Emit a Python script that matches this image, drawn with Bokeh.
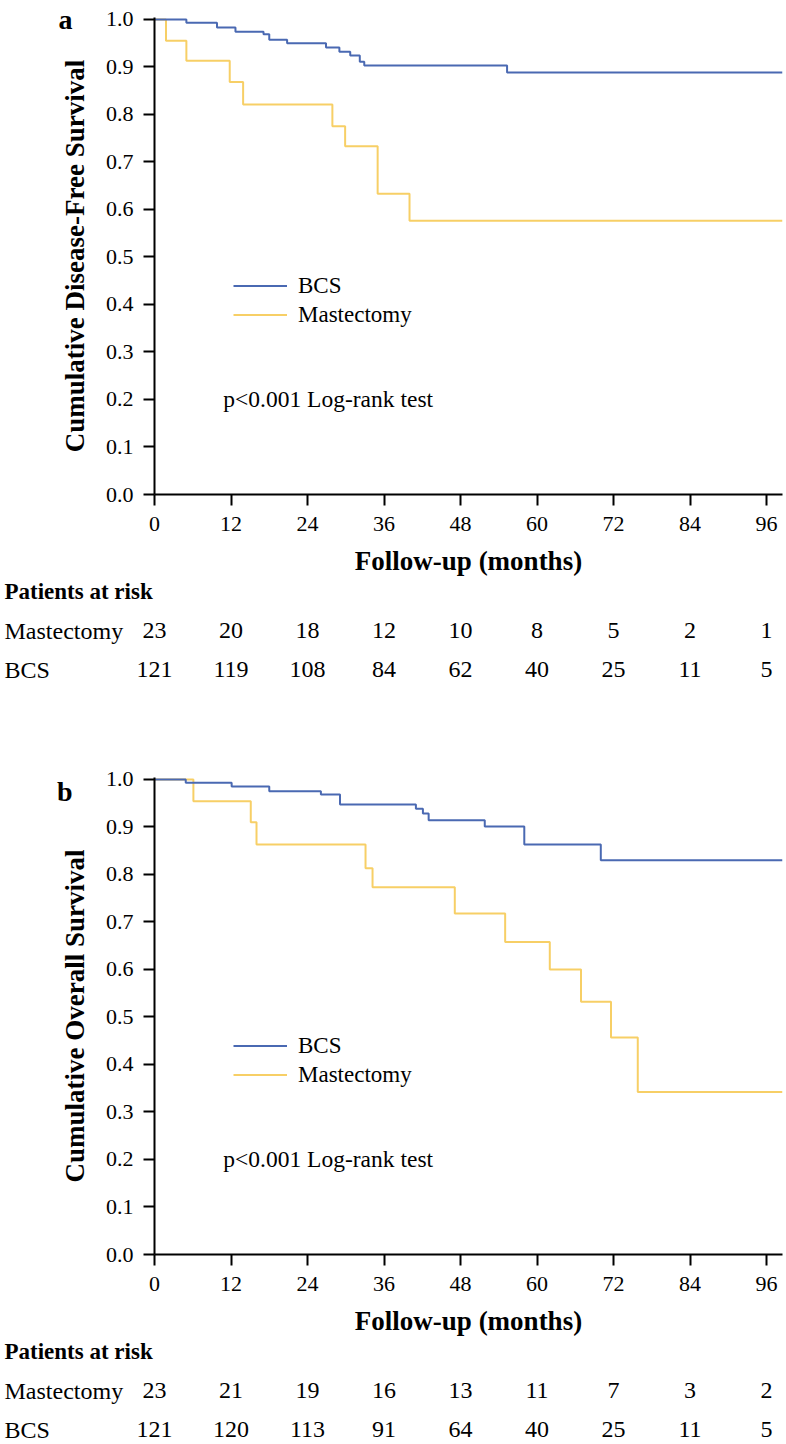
from bokeh.plotting import figure
from bokeh.models import (Range1d, FixedTicker, PrintfTickFormatter, Legend,
                          LegendItem, Label, ColumnDataSource, LinearAxis)
from bokeh.embed import file_html
from bokeh.resources import INLINE
from bokeh.core.properties import value

# ---------------- data ----------------
x_ticks = [0, 12, 24, 36, 48, 60, 72, 84, 96]
y_ticks = [0.0, 0.1, 0.2, 0.3, 0.4, 0.5, 0.6, 0.7, 0.8, 0.9, 1.0]

# (a) Disease-free survival
dfs_bcs_t = [0, 5.0, 9.8, 12.7, 17.1, 18.0, 20.8, 26.9, 29.0, 30.7, 32.2, 32.9, 55.3, 98.5]
dfs_bcs_s = [1.0, 0.993, 0.983, 0.974, 0.969, 0.957, 0.950, 0.941, 0.932, 0.924, 0.911, 0.903, 0.888, 0.888]
dfs_mast_t = [0, 1.8, 5.0, 11.8, 13.9, 27.9, 29.9, 35.0, 40.0, 98.5]
dfs_mast_s = [1.0, 0.955, 0.913, 0.868, 0.821, 0.775, 0.733, 0.633, 0.576, 0.576]

# (b) Overall survival
os_bcs_t = [0, 4.9, 12.1, 18.0, 26.1, 29.1, 41.0, 42.1, 43.0, 51.8, 58.0, 70.0, 98.5]
os_bcs_s = [1.0, 0.993, 0.985, 0.975, 0.968, 0.947, 0.938, 0.928, 0.914, 0.901, 0.863, 0.830, 0.830]
os_mast_t = [0, 6.1, 15.1, 16.0, 33.1, 34.2, 47.1, 55.0, 62.0, 66.9, 71.6, 75.8, 98.5]
os_mast_s = [1.0, 0.954, 0.910, 0.863, 0.813, 0.773, 0.718, 0.658, 0.600, 0.532, 0.457, 0.342, 0.342]

# patients at risk
dfs_risk_mast = [23, 20, 18, 12, 10, 8, 5, 2, 1]
dfs_risk_bcs = [121, 119, 108, 84, 62, 40, 25, 11, 5]
os_risk_mast = [23, 21, 19, 16, 13, 11, 7, 3, 2]
os_risk_bcs = [121, 120, 113, 91, 64, 40, 25, 11, 5]

groups = ["BCS", "Mastectomy"]
risk_header = "Patients at risk"
x_title = "Follow-up (months)"
pval_text = "p<0.001 Log-rank test"

# ---------------- style / layout ----------------
FONT = "Liberation Serif"
BLUE = "#4a69b2"
YELLOW = "#f7cf66"

W = 786
LEFT = 154
RIGHT = 4
FRAME_W = W - LEFT - RIGHT
X_END = 98.5
FRAME_H = 477
Y_END = 1.004
BOTTOM = 86
PX_PER_MONTH = FRAME_W / X_END
ROW0 = 11
ROW_H = 39
TABLE_H = 102


def km_panel(bcs_t, bcs_s, mast_t, mast_s, ytitle, tag, tag_y, border_top):
    p = figure(width=W, height=border_top + FRAME_H + BOTTOM,
               x_range=Range1d(0, X_END), y_range=Range1d(0, Y_END),
               output_backend="svg", toolbar_location=None,
               min_border_left=LEFT, min_border_right=RIGHT,
               min_border_top=border_top, min_border_bottom=BOTTOM)
    p.grid.visible = False
    p.outline_line_color = None

    xax = p.xaxis[0]
    yax = p.yaxis[0]
    xax.ticker = FixedTicker(ticks=x_ticks)
    yax.ticker = FixedTicker(ticks=y_ticks)
    yax.formatter = PrintfTickFormatter(format="%.1f")
    for ax in (xax, yax):
        ax.axis_line_width = 2
        ax.axis_line_color = "black"
        ax.major_tick_line_width = 2
        ax.major_tick_line_color = "black"
        ax.major_tick_out = 11
        ax.major_tick_in = 0
        ax.minor_tick_line_color = None
        ax.major_label_text_font = FONT
        ax.major_label_text_font_size = "22px"
        ax.major_label_text_color = "black"
        ax.axis_label_text_font = FONT
        ax.axis_label_text_font_style = "bold"
        ax.axis_label_text_color = "black"
    xax.axis_label = x_title
    xax.axis_label_text_font_size = "27px"
    xax.major_label_standoff = 11
    xax.axis_label_standoff = 12
    yax.axis_label = ytitle
    yax.axis_label_text_font_size = "27px"
    yax.major_label_standoff = 10
    yax.axis_label_standoff = 13

    # panel tag ("a"/"b") shown as the single label of an extra left axis
    tag_axis = LinearAxis(ticker=FixedTicker(ticks=[tag_y]),
                          major_label_overrides={tag_y: tag},
                          axis_line_color=None, major_tick_line_color=None,
                          minor_tick_line_color=None, major_tick_out=0,
                          major_tick_in=0, major_label_standoff=-16,
                          major_label_text_font=FONT,
                          major_label_text_font_size="28px",
                          major_label_text_font_style="bold",
                          major_label_text_color="black")
    p.add_layout(tag_axis, "left")

    r_m = p.step(mast_t, mast_s, mode="after", line_color=YELLOW, line_width=2)
    r_b = p.step(bcs_t, bcs_s, mode="after", line_color=BLUE, line_width=2)

    legend = Legend(items=[LegendItem(label=groups[0], renderers=[r_b]),
                           LegendItem(label=groups[1], renderers=[r_m])],
                    location=(79, 165),
                    label_text_font=FONT, label_text_font_size="23px",
                    label_text_color="black",
                    glyph_width=54, glyph_height=29, label_height=29,
                    label_standoff=11, spacing=0, padding=0, margin=0,
                    border_line_color=None, background_fill_alpha=0)
    p.add_layout(legend)

    p.add_layout(Label(x=10.8, y=0.2, text=pval_text, text_font=FONT,
                       text_font_size="23.5px", text_baseline="middle",
                       text_color="black"))
    return p


def risk_table(mast, bcs):
    x0 = -LEFT / PX_PER_MONTH
    x1 = X_END + RIGHT / PX_PER_MONTH
    x_lab = x0 + 4 / PX_PER_MONTH
    t = figure(width=W, height=TABLE_H,
               x_range=Range1d(x0, x1),
               y_range=Range1d(start=(TABLE_H - ROW0) / ROW_H, end=-ROW0 / ROW_H),
               x_axis_type=None, y_axis_type=None, min_border=0,
               output_backend="svg", toolbar_location=None)
    t.grid.visible = False
    t.outline_line_color = None

    t.text(x=[x_lab], y=[0], text=[risk_header], text_font=value(FONT),
           text_font_size="23px", text_font_style="bold",
           text_baseline="middle", text_align="left", text_color="black")
    t.text(x=[x_lab, x_lab], y=[1, 2], text=[groups[1], groups[0]],
           text_font=value(FONT), text_font_size="24px",
           text_baseline="middle", text_align="left", text_color="black")
    src = ColumnDataSource(dict(
        x=x_ticks + x_ticks,
        y=[1] * len(mast) + [2] * len(bcs),
        label=[str(v) for v in mast] + [str(v) for v in bcs]))
    t.text(x="x", y="y", text="label", source=src, text_font=value(FONT),
           text_font_size="24px", text_baseline="middle", text_align="center",
           text_color="black")
    return t


pa = km_panel(dfs_bcs_t, dfs_bcs_s, dfs_mast_t, dfs_mast_s,
              "Cumulative Disease-Free Survival", "a", 1.0, 17)
ta = risk_table(dfs_risk_mast, dfs_risk_bcs)
pb = km_panel(os_bcs_t, os_bcs_s, os_mast_t, os_mast_s,
              "Cumulative Overall Survival", "b", 0.975, 95)
tb = risk_table(os_risk_mast, os_risk_bcs)

open("out.html", "w").write(file_html([pa, ta, pb, tb], INLINE))
